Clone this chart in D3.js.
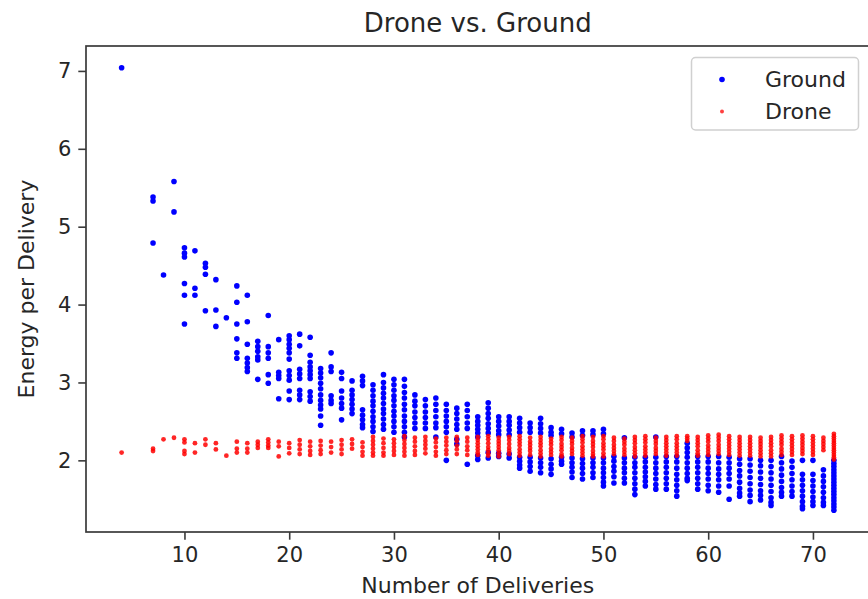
<!DOCTYPE html>
<html>
<head>
<meta charset="utf-8">
<script src="https://cdn.jsdelivr.net/npm/d3@7"></script>
<style>
  html, body { margin: 0; padding: 0; background: #fff; }
  svg { display: block; font-family: "DejaVu Sans", sans-serif; }
</style>
</head>
<body>
<svg id="chart" width="868" height="599"></svg>
<script>
// ---------------- DATA ----------------
const chartTitle = "Drone vs. Ground";
const xLabel = "Number of Deliveries";
const yLabel = "Energy per Delivery";
const seriesNames = ["Ground", "Drone"];
const xTicks = [10, 20, 30, 40, 50, 60, 70];
const yTicks = [2, 3, 4, 5, 6, 7];

const deliveries = [4, 7, 8, 9, 10, 11, 12, 13, 14, 15, 16, 17, 18, 19, 20, 21, 22, 23, 24, 25,
  26, 27, 28, 29, 30, 31, 32, 33, 34, 35, 36, 37, 38, 39, 40, 41, 42, 43, 44, 45,
  46, 47, 48, 49, 50, 51, 52, 53, 54, 55, 56, 57, 58, 59, 60, 61, 62, 63, 64, 65,
  66, 67, 68, 69, 70, 71, 72];

const groundEnergy = [
  [7.04],
  [5.38, 5.33, 4.79],
  [4.38],
  [5.58, 5.19],
  [4.73, 4.66, 4.61, 4.27, 4.12, 3.75],
  [4.69, 4.21, 4.12],
  [4.53, 4.48, 4.39, 3.92],
  [4.32, 3.93, 3.72],
  [3.83],
  [4.24, 4.03, 3.75, 3.56, 3.38, 3.31],
  [4.12, 3.78, 3.49, 3.31, 3.25, 3.19, 3.14],
  [3.53, 3.46, 3.40, 3.33, 3.29, 3.04],
  [3.86, 3.46, 3.38, 3.31, 3.10, 2.99],
  [3.55, 3.13, 3.09, 3.05, 2.79],
  [3.60, 3.55, 3.49, 3.44, 3.38, 3.30, 3.15, 3.09, 3.03, 2.89, 2.78],
  [3.62, 3.47, 3.17, 3.11, 3.05, 2.90, 2.84, 2.78],
  [3.58, 3.35, 3.26, 3.20, 3.15, 3.10, 3.05, 2.88, 2.82, 2.76],
  [3.18, 3.12, 3.06, 2.99, 2.92, 2.84, 2.77, 2.71, 2.66, 2.57, 2.45],
  [3.38, 3.20, 3.14, 2.83, 2.77, 2.73],
  [3.13, 3.05, 2.89, 2.80, 2.73, 2.67, 2.52],
  [3.02, 2.90, 2.84, 2.78, 2.72, 2.66, 2.60],
  [3.08, 3.02, 2.96, 2.65, 2.58, 2.52, 2.46, 2.42],
  [2.97, 2.90, 2.83, 2.76, 2.70, 2.63, 2.56, 2.50, 2.43, 2.37],
  [3.10, 3.00, 2.93, 2.86, 2.80, 2.73, 2.66, 2.60, 2.53, 2.46, 2.40],
  [3.04, 2.97, 2.90, 2.83, 2.77, 2.70, 2.63, 2.57, 2.50, 2.43, 2.36],
  [3.04, 2.95, 2.87, 2.80, 2.72, 2.65, 2.57, 2.50, 2.43, 2.36, 2.30],
  [2.84, 2.76, 2.70, 2.62, 2.55, 2.48, 2.41],
  [2.78, 2.70, 2.62, 2.55, 2.48, 2.41],
  [2.80, 2.72, 2.64, 2.56, 2.48, 2.42, 2.30],
  [2.72, 2.64, 2.57, 2.50, 2.43, 2.36, 2.00],
  [2.67, 2.60, 2.53, 2.46, 2.40, 2.27, 2.21],
  [2.72, 2.64, 2.56, 2.48, 2.41, 1.95],
  [2.56, 2.50, 2.45, 2.40, 2.35, 2.30, 2.06, 2.01],
  [2.74, 2.67, 2.60, 2.54, 2.47, 2.41, 2.35, 2.10, 2.03],
  [2.56, 2.50, 2.44, 2.38, 2.33, 2.09, 2.05],
  [2.56, 2.50, 2.45, 2.39, 2.33, 2.08, 2.03],
  [2.54, 2.48, 2.42, 2.36, 2.04, 1.99, 1.94, 1.90],
  [2.48, 2.42, 2.36, 2.04, 1.98, 1.92, 1.86],
  [2.54, 2.47, 2.41, 2.35, 2.03, 1.97, 1.91, 1.84],
  [2.42, 2.36, 2.32, 2.02, 1.95, 1.89, 1.82],
  [2.40, 2.34, 2.04, 1.99, 1.95],
  [2.35, 2.30, 2.03, 1.97, 1.91, 1.85, 1.78],
  [2.38, 2.32, 2.02, 1.96, 1.90, 1.83, 1.76],
  [2.38, 2.33, 2.03, 1.97, 1.91, 1.84, 1.78],
  [2.40, 2.34, 2.03, 1.97, 1.90, 1.84, 1.78, 1.72, 1.67],
  [2.05, 1.99, 1.92, 1.86, 1.79, 1.71],
  [2.29, 2.03, 1.97, 1.90, 1.84, 1.77, 1.71],
  [2.04, 1.97, 1.91, 1.84, 1.77, 1.70, 1.63, 1.56],
  [2.04, 1.98, 1.91, 1.85, 1.79, 1.73, 1.67],
  [2.30, 2.04, 1.97, 1.90, 1.83, 1.76, 1.69, 1.63],
  [2.05, 1.98, 1.91, 1.84, 1.77, 1.70, 1.63],
  [2.05, 1.98, 1.90, 1.82, 1.75, 1.68, 1.61, 1.54],
  [2.22, 2.16, 2.10, 2.04, 1.97, 1.90, 1.83, 1.77, 1.74],
  [2.05, 1.98, 1.91, 1.84, 1.77, 1.70, 1.63],
  [2.05, 1.98, 1.90, 1.83, 1.76, 1.68, 1.61],
  [2.05, 1.97, 1.89, 1.82, 1.75, 1.67, 1.59],
  [2.04, 1.97, 1.90, 1.83, 1.76, 1.67, 1.50],
  [2.02, 1.95, 1.87, 1.80, 1.72, 1.64, 1.58, 1.54],
  [2.02, 1.94, 1.86, 1.78, 1.70, 1.62, 1.55, 1.47],
  [2.00, 1.93, 1.85, 1.77, 1.69, 1.61, 1.55, 1.49],
  [2.00, 1.92, 1.84, 1.76, 1.68, 1.60, 1.52, 1.46, 1.42],
  [2.05, 1.97, 1.89, 1.81, 1.73, 1.65, 1.59, 1.54],
  [1.99, 1.91, 1.83, 1.75, 1.67, 1.60, 1.54],
  [2.00, 1.82, 1.75, 1.68, 1.61, 1.54, 1.47, 1.41, 1.38],
  [2.00, 1.82, 1.74, 1.67, 1.60, 1.53, 1.47, 1.42],
  [1.88, 1.80, 1.73, 1.66, 1.59, 1.52, 1.46, 1.42],
  [2.00, 1.96, 1.92, 1.88, 1.84, 1.80, 1.76, 1.72, 1.68, 1.64, 1.60, 1.56, 1.52, 1.48, 1.44, 1.40, 1.36]
];

const droneEnergy = [
  [2.10],
  [2.15, 2.12],
  [2.27],
  [2.29],
  [2.27, 2.23, 2.12, 2.08],
  [2.22, 2.10],
  [2.27, 2.20],
  [2.22, 2.14],
  [2.06],
  [2.24, 2.15, 2.10],
  [2.22, 2.15, 2.10],
  [2.24, 2.20, 2.16],
  [2.27, 2.23, 2.19, 2.16],
  [2.24, 2.18, 2.05],
  [2.22, 2.16, 2.09],
  [2.26, 2.20, 2.14, 2.08],
  [2.24, 2.18, 2.12, 2.07],
  [2.25, 2.19, 2.13, 2.08],
  [2.24, 2.17, 2.10],
  [2.26, 2.20, 2.14, 2.08],
  [2.27, 2.21, 2.15],
  [2.23, 2.17, 2.11, 2.06],
  [2.30, 2.25, 2.20, 2.15, 2.10, 2.06],
  [2.28, 2.22, 2.16, 2.10, 2.06],
  [2.27, 2.22, 2.17, 2.12, 2.07],
  [2.31, 2.26, 2.21, 2.16, 2.11, 2.06],
  [2.29, 2.24, 2.18, 2.12, 2.07],
  [2.30, 2.25, 2.20, 2.15, 2.09],
  [2.28, 2.23, 2.17, 2.11, 2.06],
  [2.29, 2.24, 2.19, 2.13, 2.08],
  [2.30, 2.25, 2.19, 2.14, 2.08],
  [2.29, 2.24, 2.18, 2.13, 2.07],
  [2.30, 2.26, 2.22, 2.18, 2.14, 2.10, 2.07],
  [2.31, 2.27, 2.22, 2.17, 2.13, 2.09, 2.06],
  [2.29, 2.25, 2.21, 2.17, 2.13, 2.09, 2.05],
  [2.30, 2.26, 2.21, 2.16, 2.12, 2.08],
  [2.31, 2.27, 2.23, 2.19, 2.14, 2.10, 2.06],
  [2.29, 2.24, 2.20, 2.16, 2.12, 2.07],
  [2.30, 2.26, 2.22, 2.18, 2.13, 2.09, 2.05],
  [2.28, 2.24, 2.20, 2.15, 2.11, 2.07],
  [2.30, 2.26, 2.21, 2.17, 2.13, 2.08, 2.05],
  [2.29, 2.25, 2.21, 2.16, 2.12, 2.08],
  [2.31, 2.27, 2.23, 2.18, 2.14, 2.10, 2.06],
  [2.30, 2.25, 2.21, 2.17, 2.12, 2.08, 2.05],
  [2.31, 2.27, 2.22, 2.18, 2.14, 2.09, 2.05],
  [2.29, 2.25, 2.20, 2.16, 2.12, 2.08],
  [2.28, 2.24, 2.20, 2.15, 2.11, 2.07],
  [2.30, 2.26, 2.22, 2.17, 2.13, 2.09, 2.05],
  [2.31, 2.27, 2.23, 2.18, 2.14, 2.10, 2.06],
  [2.29, 2.25, 2.21, 2.16, 2.12, 2.08],
  [2.30, 2.26, 2.22, 2.18, 2.14, 2.10, 2.06],
  [2.31, 2.27, 2.22, 2.18, 2.14, 2.10, 2.06],
  [2.31, 2.28, 2.25],
  [2.30, 2.26, 2.22, 2.18, 2.13, 2.09, 2.06],
  [2.32, 2.28, 2.24, 2.19, 2.15, 2.11, 2.07],
  [2.33, 2.29, 2.25, 2.20, 2.16, 2.12, 2.08],
  [2.31, 2.27, 2.23, 2.19, 2.15, 2.11, 2.07],
  [2.30, 2.26, 2.22, 2.18, 2.14, 2.10, 2.06],
  [2.30, 2.26, 2.22, 2.18, 2.14, 2.10, 2.06],
  [2.29, 2.25, 2.21, 2.17, 2.13, 2.09, 2.05],
  [2.30, 2.26, 2.22, 2.18, 2.13, 2.09, 2.05],
  [2.32, 2.28, 2.24, 2.20, 2.15, 2.11, 2.07],
  [2.31, 2.27, 2.23, 2.19, 2.15, 2.11, 2.07],
  [2.32, 2.28, 2.24, 2.20, 2.16, 2.12, 2.08],
  [2.31, 2.27, 2.23, 2.19, 2.15, 2.11, 2.07],
  [2.29, 2.25, 2.21, 2.17, 2.13],
  [2.34, 2.31, 2.28, 2.25, 2.22, 2.19, 2.16, 2.13, 2.10, 2.07, 2.04, 2.01]
];

// ---------------- CHART ----------------
const W = 868, H = 599;
const plot = { left: 86, right: 869.5, top: 46, bottom: 532 };
const textColor = "#262626";
const spineColor = "#3a3a3a";
const blue = "#0000ff", red = "#ff0000";

const svg = d3.select("#chart");

const x = d3.scaleLinear().domain([0.6, 75.4]).range([plot.left, plot.right]);
const y = d3.scaleLinear().domain([1.08, 7.32]).range([plot.bottom, plot.top]);

function flatten(values) {
  const pts = [];
  deliveries.forEach((d, i) => values[i].forEach(v => pts.push({ x: d, y: v })));
  return pts;
}
const groundPts = flatten(groundEnergy);
const dronePts = flatten(droneEnergy);

svg.append("clipPath").attr("id", "plotclip")
  .append("rect").attr("x", plot.left).attr("y", plot.top)
  .attr("width", plot.right - plot.left).attr("height", plot.bottom - plot.top);

const pg = svg.append("g").attr("clip-path", "url(#plotclip)");
pg.append("g").selectAll("circle").data(groundPts).join("circle")
  .attr("cx", d => x(d.x)).attr("cy", d => y(d.y)).attr("r", 2.8)
  .attr("fill", blue);
pg.append("g").selectAll("circle").data(dronePts).join("circle")
  .attr("cx", d => x(d.x)).attr("cy", d => y(d.y)).attr("r", 2.4)
  .attr("fill", red).attr("fill-opacity", 0.85);

// axes
const xAxis = d3.axisBottom(x).tickValues(xTicks).tickFormat(d3.format("d")).tickSize(7.7).tickPadding(7);
const yAxis = d3.axisLeft(y).tickValues(yTicks).tickFormat(d3.format("d")).tickSize(7.7).tickPadding(7);

const gx = svg.append("g").attr("transform", `translate(0,${plot.bottom})`).call(xAxis);
const gy = svg.append("g").attr("transform", `translate(${plot.left},0)`).call(yAxis);
[gx, gy].forEach(g => {
  g.select(".domain").remove();
  g.selectAll(".tick line").attr("stroke", spineColor).attr("stroke-width", 1.6);
  g.selectAll(".tick text").attr("fill", textColor).attr("font-size", 21)
    .attr("font-family", "DejaVu Sans");
});

// frame (spines)
svg.append("rect").attr("x", plot.left).attr("y", plot.top)
  .attr("width", plot.right - plot.left).attr("height", plot.bottom - plot.top)
  .attr("fill", "none").attr("stroke", spineColor).attr("stroke-width", 1.7);

// title & labels
svg.append("text").attr("x", (plot.left + plot.right) / 2).attr("y", 31.5)
  .attr("text-anchor", "middle").attr("font-size", 26).attr("fill", textColor)
  .text(chartTitle);
svg.append("text").attr("x", (plot.left + plot.right) / 2).attr("y", 593)
  .attr("text-anchor", "middle").attr("font-size", 22).attr("fill", textColor)
  .text(xLabel);
svg.append("text").attr("transform", `translate(34,${(plot.top + plot.bottom) / 2}) rotate(-90)`)
  .attr("text-anchor", "middle").attr("font-size", 22).attr("fill", textColor)
  .text(yLabel);

// legend
const lg = svg.append("g");
lg.append("rect").attr("x", 691.5).attr("y", 57.5).attr("width", 167).attr("height", 72.5)
  .attr("rx", 4).attr("fill", "#fff").attr("fill-opacity", 0.8)
  .attr("stroke", "#d0d0d0").attr("stroke-width", 1.5);
const legendItems = [
  { name: seriesNames[0], color: blue, r: 2.8, op: 1, y: 79.5 },
  { name: seriesNames[1], color: red, r: 2.0, op: 0.75, y: 111.5 }
];
legendItems.forEach(it => {
  lg.append("circle").attr("cx", 722).attr("cy", it.y).attr("r", it.r)
    .attr("fill", it.color).attr("fill-opacity", it.op);
  lg.append("text").attr("x", 765).attr("y", it.y + 7.8).attr("font-size", 22)
    .attr("fill", textColor).text(it.name);
});
</script>
</body>
</html>
